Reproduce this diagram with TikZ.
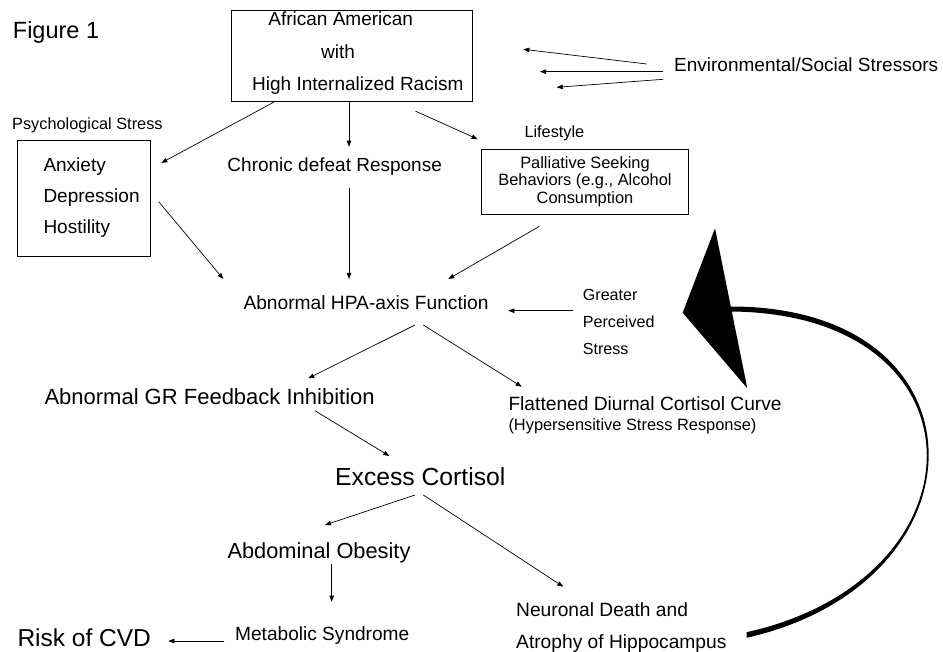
\documentclass[tikz,border=0pt]{standalone}
\usepackage{fontspec}
\setmainfont{Liberation Sans}
\usetikzlibrary{arrows.meta,calc}

\tikzset{
  txt/.style={inner sep=0pt, anchor=base west},
  box/.style={draw, line width=0.8pt, inner sep=0pt},
  arr/.style={line width=0.7pt, -{Triangle[length=6pt,width=4.5pt]}}
}
\newcommand{\fs}[1]{\fontsize{#1}{#1}\selectfont}

\begin{document}
\begin{tikzpicture}[x=1pt, y=-1pt]
  \useasboundingbox (0,0) rectangle (943,652);
  % Title
  \node[txt, font=\fs{23.5}] (fig) at (12.7,38.3) {Figure 1};
  % Top box
  \node[box, minimum width=241pt, minimum height=91pt] (aa) at (352.3,56.2) {};
  \foreach \t/\x/\y [count=\i] in {African American/340.7/25.7, with/338/58.3, High Internalized Racism/357.8/90.7}
    \node[txt, anchor=base, font=\fs{19}] (aa\i) at (\x,\y) {\t};
  \node[txt, font=\fs{19}] (env) at (674,71.7) {Environmental/Social Stressors};
  \coordinate (e1) at (523.3,49.3);
  \coordinate (e2) at (540,71.7);
  \coordinate (e3) at (556.7,87.3);
  % Psychological stress
  \node[txt, font=\fs{16.3}] (psylbl) at (12,130) {Psychological Stress};
  \node[box, minimum width=132.7pt, minimum height=115.3pt] (psy) at (83.65,198.35) {};
  \foreach \t [count=\i] in {Anxiety, Depression, Hostility}
    \node[txt, font=\fs{19}] (psy\i) at (43.3,141+30.8*\i) {\t};
  \node[txt, anchor=base, font=\fs{19}] (chr) at (334.7,172) {Chronic defeat Response};
  % Lifestyle
  \node[txt, font=\fs{16.3}] (life) at (524.3,137.3) {Lifestyle};
  \node[box, minimum width=206.6pt, minimum height=65pt, align=center, font=\fontsize{16.4}{17.7}\selectfont] (pal) at (585,181.5)
    {Palliative Seeking\\Behaviors (e.g., Alcohol\\Consumption};
  % HPA level
  \node[txt, font=\fs{19.2}] (hpa) at (243.3,309.3) {Abnormal HPA-axis Function};
  \foreach \t [count=\i] in {Greater, Perceived, Stress}
    \node[txt, font=\fs{16.1}] (gps\i) at (582.7,273.7+27*\i) {\t};
  \node[txt, font=\fs{22}] (gr) at (44.3,404) {Abnormal GR Feedback Inhibition};
  \node[txt, font=\fs{19.2}] (flat) at (508.3,410.7) {Flattened Diurnal Cortisol Curve};
  \node[txt, font=\fs{16.4}] (flat2) at (508.3,430.7) {(Hypersensitive Stress Response)};
  \node[txt, font=\fs{24.7}] (exc) at (335,485) {Excess Cortisol};
  \node[txt, font=\fs{21.8}] (abd) at (227.3,558.3) {Abdominal Obesity};
  \node[txt, font=\fs{19.1}] (met) at (235,640) {Metabolic Syndrome};
  \node[txt, font=\fs{24.5}] (risk) at (17.3,646) {Risk of CVD};
  \node[txt, font=\fs{19.2}] (neu1) at (516,616.7) {Neuronal Death and};
  \node[txt, font=\fs{19.2}] (neu2) at (516,648.3) {Atrophy of Hippocampus};

  % Arrows
  \draw[arr] ($(aa.south west)+(42.5,0)$) -- ($(psy.north east)+(11,22.6)$);
  \draw[arr] ($(aa.south)+(-3.3,0)$) -- ($(chr.base)+(14.3,-25.3)$);
  \draw[arr] ($(aa.south east)+(-57.8,9)$) -- ($(pal.north west)+(-3.7,-9.5)$);
  \draw[arr] ($(env.base west)+(-27.3,-7.7)$) -- (e1);
  \draw[arr] ($(env.base west)+(-10.7,0)$) -- (e2);
  \draw[arr] ($(env.base west)+(-10.7,7.6)$) -- (e3);
  \draw[arr] ($(psy.east)+(8.3,3.35)$) -- ($(hpa.base west)+(-20,-30.3)$);
  \draw[arr] ($(chr.base)+(14.3,15.7)$) -- ($(hpa.base west)+(105.7,-30.3)$);
  \draw[arr] ($(pal.south)+(-45.7,12)$) -- ($(hpa.base west)+(205,-30.3)$);
  \draw[arr] ($(gps1.base west)+(-10,10)$) -- ($(hpa.base west)+(265,1.4)$);
  \draw[arr] ($(hpa.base west)+(171.7,15.7)$) -- ($(gr.base west)+(264,-25.7)$);
  \draw[arr] ($(hpa.base west)+(180,15.7)$) -- ($(flat.base west)+(13.4,-24)$);
  \draw[arr] ($(gr.base west)+(270.7,6.7)$) -- ($(exc.base west)+(54.3,-29)$);
  \draw[arr] ($(exc.base west)+(80,10)$) -- ($(abd.base west)+(97.7,-33.3)$);
  \draw[arr] ($(exc.base west)+(88.3,10)$) -- ($(neu1.base west)+(47.3,-30)$);
  \draw[arr] ($(abd.base west)+(104.4,5.7)$) -- ($(met.base west)+(96.7,-38.3)$);
  \draw[arr] ($(met.base west)+(-10.7,1)$) -- ($(risk.base west)+(151,-5)$);

  % Feedback loop
  \coordinate (cb) at ($(neu2.base west)+(230.7,-13.3)$);
  \fill ($(cb)+(0,2.8)$) .. controls (992,582) and (992,306) .. (730,306.5)
    -- (730,311.5) .. controls (989.5,313) and (989.5,578) .. ($(cb)+(0,-2.8)$) -- cycle;
  \fill (715,228.3) -- (682.7,312.7) -- (747.3,388.3) -- cycle;
\end{tikzpicture}
\end{document}
